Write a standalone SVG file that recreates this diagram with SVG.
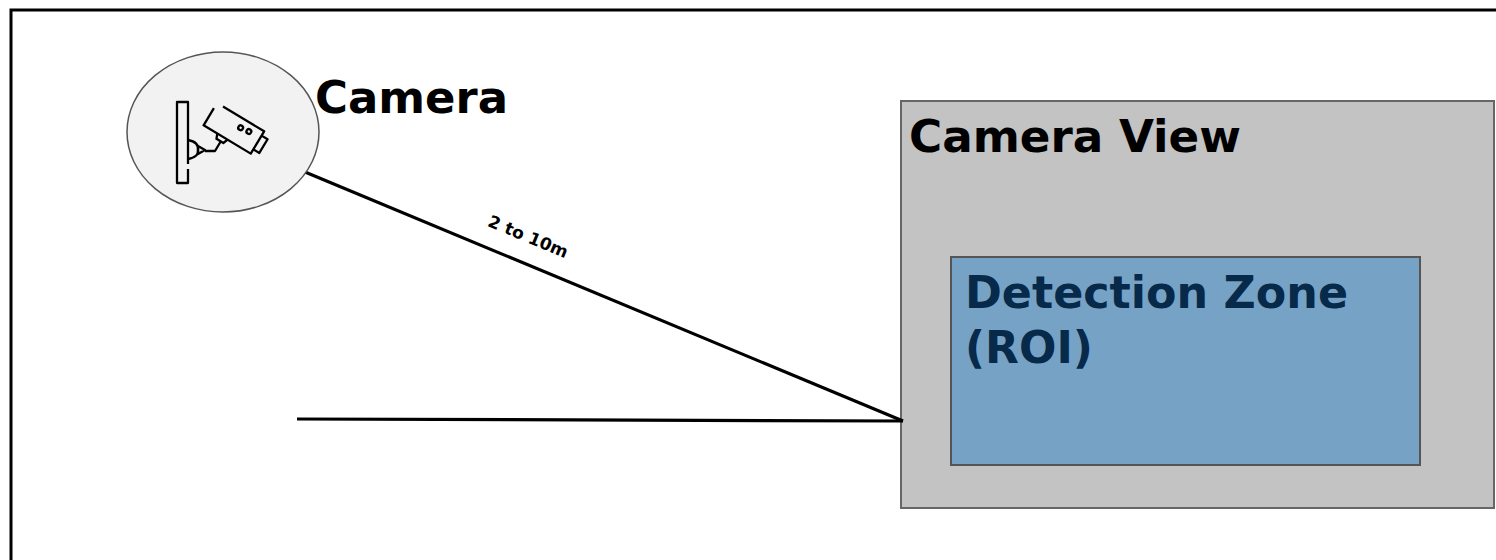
<svg xmlns="http://www.w3.org/2000/svg" width="1496" height="560" viewBox="0 0 1496 560">
<style>
.lbl{font-family:"DejaVu Sans","Liberation Sans",sans-serif;font-weight:bold;fill:#000}
.big{font-size:44px}
.roi{fill:#07294a}
.ln{stroke:#000;stroke-width:3.2;fill:none}
.ic{stroke:#000;stroke-width:2.3;fill:none;stroke-linejoin:round}
</style>
<rect x="11" y="10" width="1600" height="700" fill="#fff" stroke="#000" stroke-width="3"/>
<g id="camera-view">
<rect x="901" y="101" width="593" height="407" fill="#c3c3c3" stroke="#666" stroke-width="2"/>
<text class="lbl big" x="909" y="152" textLength="332" lengthAdjust="spacingAndGlyphs">Camera View</text>
</g>
<g id="detection-zone">
<rect x="951" y="257" width="469" height="208" fill="#76a3c5" stroke="#555" stroke-width="2"/>
<text class="lbl big roi" x="965" y="308" textLength="383" lengthAdjust="spacingAndGlyphs">Detection Zone</text>
<text class="lbl big roi" x="965" y="363">(ROI)</text>
</g>
<g id="connectors">
<line class="ln" x1="305" y1="172" x2="903" y2="421"/>
<line class="ln" x1="297" y1="419" x2="903" y2="421"/>
<text class="lbl" font-size="17" text-anchor="middle" transform="translate(526,242) rotate(22.6)">2 to 10m</text>
</g>
<g id="camera">
<ellipse cx="223" cy="132" rx="96" ry="80" fill="#f2f2f2" stroke="#555" stroke-width="1.5"/>
<path class="ic" d="M188 164 V102 H177 V183 H188 V169"/>
<path class="ic" d="M188 140 Q199 142 198 150 Q199 157 188 159"/>
<path class="ic" d="M198 146 L198 154 L205 150 Z"/>
<path class="ic" d="M205 151 H215 L221 141"/>
<g transform="translate(217,103) rotate(31)">
<path class="ic" d="M7 0 H55 V26 H0 V6"/>
<path class="ic" d="M55 5 H62 V21 H55"/>
<circle cx="33" cy="9" r="2.4" class="ic" stroke-width="2"/>
<circle cx="42" cy="8" r="2.4" class="ic" stroke-width="2"/>
<path class="ic" d="M16 26 L18 31 H26 L28 26"/>
</g>
<text class="lbl big" x="315" y="113" textLength="193" lengthAdjust="spacingAndGlyphs">Camera</text>
</g>
</svg>
